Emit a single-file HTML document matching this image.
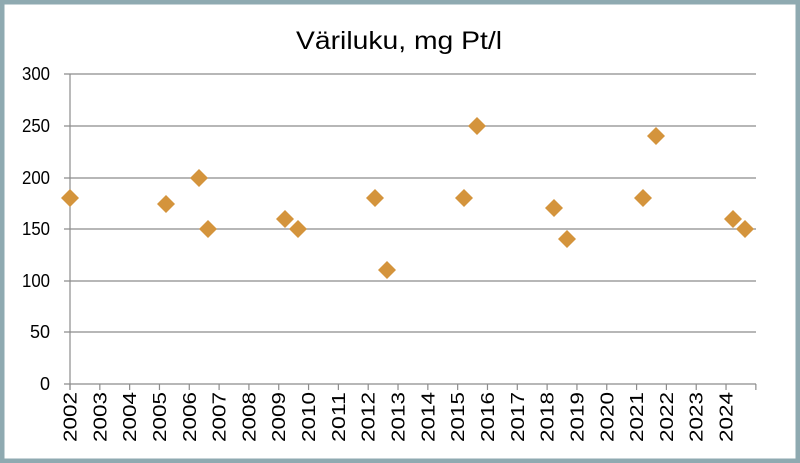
<!DOCTYPE html>
<html><head><meta charset="utf-8"><style>
html,body{margin:0;padding:0;background:#fff}
svg{display:block}
text{font-family:"Liberation Sans",sans-serif;fill:#000}
</style></head><body>
<svg width="800" height="463" viewBox="0 0 800 463">
<rect x="2" y="2" width="796" height="459" fill="#fff" stroke="#8faab1" stroke-width="5"/>
<text x="399" y="49" font-size="25" text-anchor="middle" textLength="206" lengthAdjust="spacingAndGlyphs">Väriluku, mg Pt/l</text>
<g stroke="#8c8c8c" stroke-width="1.2">
<line x1="64" y1="74" x2="756" y2="74"/>
<line x1="64" y1="126" x2="756" y2="126"/>
<line x1="64" y1="178" x2="756" y2="178"/>
<line x1="64" y1="229" x2="756" y2="229"/>
<line x1="64" y1="281" x2="756" y2="281"/>
<line x1="64" y1="332" x2="756" y2="332"/>
<line x1="64" y1="384" x2="756" y2="384"/>
<line x1="70" y1="74" x2="70" y2="390"/>
</g>
<g font-size="18" text-anchor="end">
<text x="50" y="80" textLength="28" lengthAdjust="spacingAndGlyphs">300</text>
<text x="50" y="132" textLength="28" lengthAdjust="spacingAndGlyphs">250</text>
<text x="50" y="184" textLength="28" lengthAdjust="spacingAndGlyphs">200</text>
<text x="50" y="235" textLength="28" lengthAdjust="spacingAndGlyphs">150</text>
<text x="50" y="287" textLength="28" lengthAdjust="spacingAndGlyphs">100</text>
<text x="50" y="338">50</text>
<text x="50" y="390">0</text>
</g>
<g id="ticks" stroke="#8c8c8c" stroke-width="1.2"></g>
<g id="labels" font-size="18"></g>
<g id="pts" fill="#d4943c"></g>
</svg>
<script>
var ns="http://www.w3.org/2000/svg";
var t=document.getElementById('ticks'),l=document.getElementById('labels'),p=document.getElementById('pts');
for(var i=0;i<=23;i++){var x=70+i*29.82;var ln=document.createElementNS(ns,'line');ln.setAttribute('x1',x);ln.setAttribute('x2',x);ln.setAttribute('y1',384);ln.setAttribute('y2',390);t.appendChild(ln);
if(i<23){var tx=document.createElementNS(ns,'text');tx.setAttribute('transform','translate('+(x+6.5)+',392) rotate(-90)');tx.setAttribute('text-anchor','end');tx.setAttribute('textLength','50');tx.setAttribute('lengthAdjust','spacingAndGlyphs');tx.textContent=2002+i;l.appendChild(tx);}}
var d=[[70,198],[166,204],[199,178],[208,229],[285,219],[298,229],[375,198],[387,270],[464,198],[477,126],[554,208],[567,239],[643,198],[656,136],[733,219],[745,229]];
d.forEach(function(q){var g=document.createElementNS(ns,'polygon');var x=q[0],y=q[1],r=9;g.setAttribute('points',x+','+(y-r)+' '+(x+r)+','+y+' '+x+','+(y+r)+' '+(x-r)+','+y);p.appendChild(g);});
</script>
</body></html>
